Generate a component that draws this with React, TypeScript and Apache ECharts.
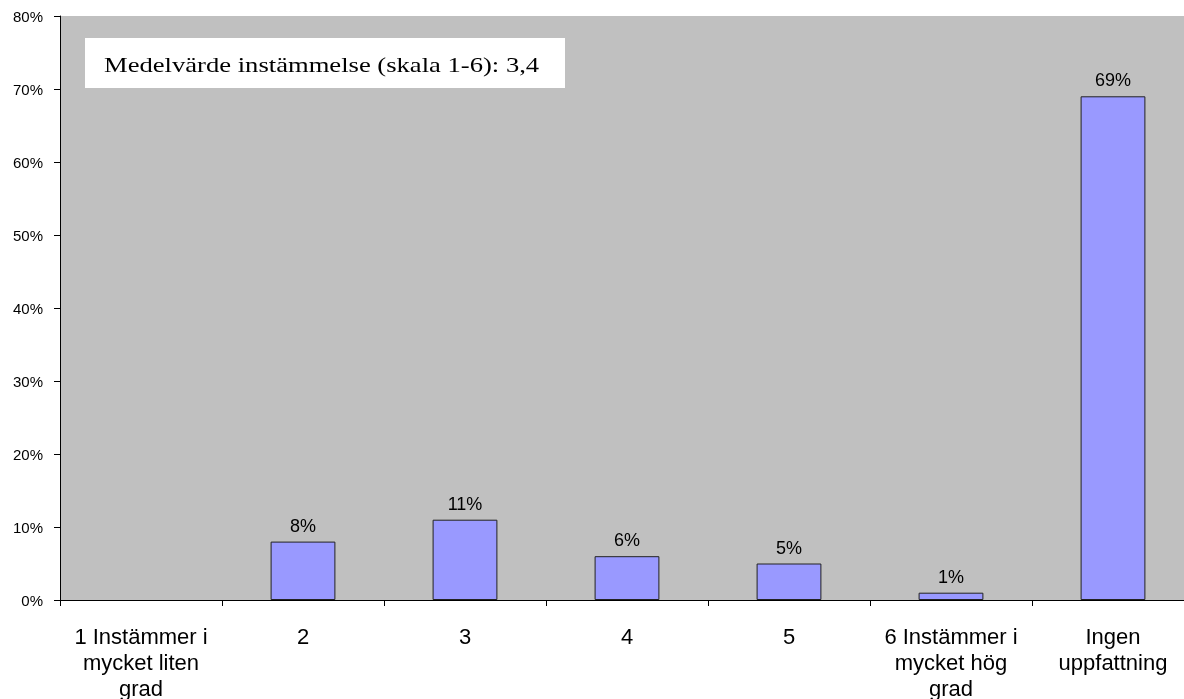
import React, { useEffect, useRef } from "react";
import * as echarts from "echarts";

const categories = [
  "1 Instämmer i\nmycket liten\ngrad",
  "2",
  "3",
  "4",
  "5",
  "6 Instämmer i\nmycket hög\ngrad",
  "Ingen\nuppfattning",
];
const values = [0, 8, 11, 6, 5, 1, 69];
const annotation = "Medelvärde instämmelse (skala 1-6): 3,4";

export default function App() {
  const ref = useRef<HTMLDivElement>(null);
  useEffect(() => {
    if (!ref.current) return;
    const chart = echarts.init(ref.current, null, { renderer: "svg" });
    chart.setOption({
      animation: false,
      grid: {
        left: 60,
        top: 16,
        width: 1134,
        height: 584,
        outerBoundsMode: "none",
        containLabel: false,
        show: true,
        backgroundColor: "#c0c0c0",
        borderWidth: 0,
      },
      xAxis: {
        type: "category",
        data: categories,
        axisLine: { show: true, lineStyle: { color: "#000", width: 1 } },
        axisTick: { show: true, length: 6, lineStyle: { color: "#000" } },
        axisLabel: {
          color: "#000",
          fontFamily: "Liberation Sans",
          fontSize: 22,
          lineHeight: 26,
          margin: 23,
          interval: 0,
        },
      },
      yAxis: {
        type: "value",
        min: 0,
        max: 80,
        interval: 10,
        splitLine: { show: false },
        axisLine: { show: true, lineStyle: { color: "#000", width: 1 } },
        axisTick: { show: true, length: 6, lineStyle: { color: "#000" } },
        axisLabel: {
          color: "#000",
          fontFamily: "Liberation Sans",
          fontSize: 15,
          margin: 17,
          formatter: "{value}%",
        },
      },
      series: [
        {
          type: "bar",
          data: values.map((v) => (v === 0 ? null : v)),
          barWidth: "40%",
          itemStyle: { color: "#9999ff", borderColor: "#222", borderWidth: 1 },
          label: {
            show: true,
            position: "top",
            distance: 7,
            color: "#000",
            fontFamily: "Liberation Sans",
            fontSize: 18,
            formatter: "{c}%",
          },
        },
      ],
      graphic: [
        {
          type: "rect",
          shape: { x: 85, y: 38, width: 480, height: 50 },
          style: { fill: "#fff" },
        },
        {
          type: "text",
          x: 104,
          y: 64,
          scaleX: 1.21,
          style: {
            text: annotation,
            fontFamily: "Liberation Serif",
            fontSize: 22,
            fill: "#000",
            verticalAlign: "middle",
          },
        },
      ],
    });
    return () => chart.dispose();
  }, []);
  return (
    <div
      ref={ref}
      style={{ position: "fixed", left: 0, top: 0, width: 1184, height: 699 }}
    />
  );
}
